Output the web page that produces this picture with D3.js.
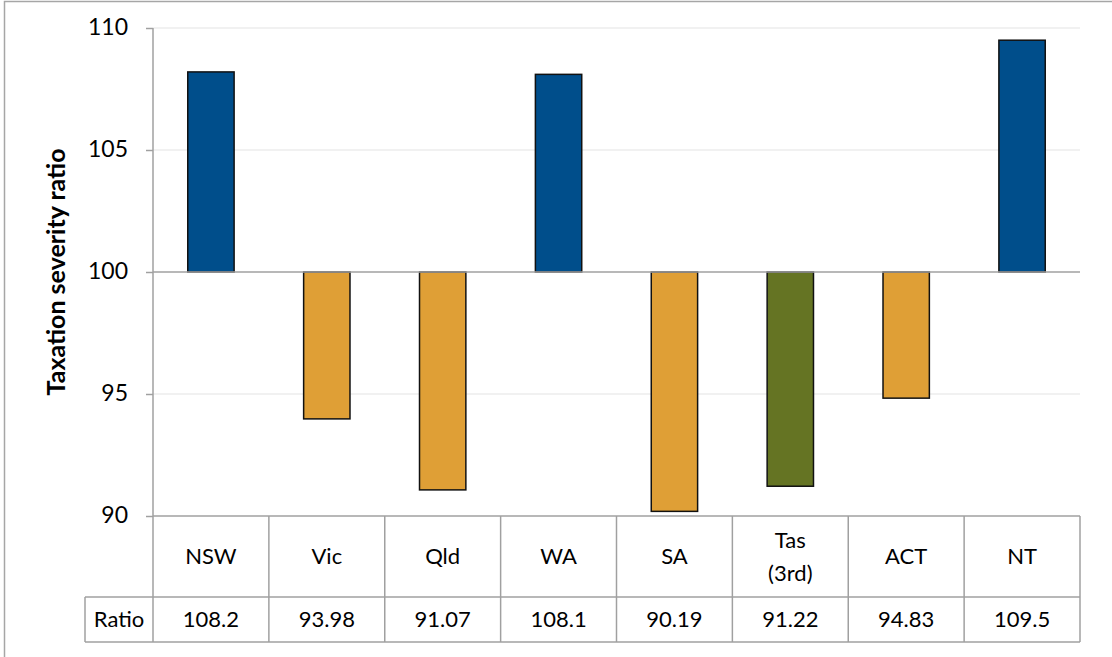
<!DOCTYPE html>
<html>
<head>
<meta charset="utf-8">
<script src="https://cdn.jsdelivr.net/npm/d3@7"></script>
<style>
  html, body { margin: 0; padding: 0; background: #fff; }
  svg { display: block; font-family: Lato, "Open Sans", sans-serif; }
</style>
</head>
<body>
<svg id="chart" width="1112" height="657"></svg>
<script>
// State codes and their taxation severity ratios
const categories = ["NSW", "Vic", "Qld", "WA", "SA", "Tas\n(3rd)", "ACT", "NT"];
const ratios = [108.2, 93.98, 91.07, 108.1, 90.19, 91.22, 94.83, 109.5];
const ratioLabels = ["108.2", "93.98", "91.07", "108.1", "90.19", "91.22", "94.83", "109.5"];
const barGroup = ["above", "below", "below", "above", "below", "third", "below", "above"];
const yTicks = [90, 95, 100, 105, 110];
const baseline = 100;

const colours = { above: "#004e8b", below: "#df9f36", third: "#657423" };

(function draw() {
  const svg = d3.select("#chart");
  const W = 1112, H = 657;
  const fontSize = "22px";

  // outer frame
  svg.append("rect")
    .attr("x", 4.5).attr("y", 1.5).attr("width", W + 10).attr("height", H + 10)
    .attr("fill", "none").attr("stroke", "#a6a6a6").attr("stroke-width", 1.5);

  const plotLeft = 153, plotRight = 1080, plotTop = 28, plotBottom = 516;
  const tableRow1 = 597, tableRow2 = 642, labelColLeft = 85;

  const x = d3.scaleBand().domain(categories).range([plotLeft, plotRight]).paddingInner(0).paddingOuter(0);
  const y = d3.scaleLinear().domain([90, 110]).range([plotBottom, plotTop]);

  // horizontal gridlines
  svg.append("g")
    .selectAll("line")
    .data(yTicks.filter(t => t !== 90 && t !== baseline))
    .join("line")
    .attr("x1", plotLeft).attr("x2", plotRight)
    .attr("y1", d => y(d)).attr("y2", d => y(d))
    .attr("stroke", "#ececec").attr("stroke-width", 1.5);

  // y axis
  const yAxis = d3.axisLeft(y).tickValues(yTicks).tickSize(7).tickPadding(18).tickFormat(d3.format("d"));
  const gy = svg.append("g").attr("transform", `translate(${plotLeft},0)`).call(yAxis);
  gy.select(".domain").remove();
  gy.selectAll(".tick line").attr("stroke", "#a0a0a0").attr("stroke-width", 1.5);
  gy.selectAll(".tick text")
    .attr("fill", "#000").style("font-size", "23px").style("font-family", "Lato, sans-serif")
    .attr("dy", "0.3em");

  svg.append("line")
    .attr("x1", plotLeft).attr("x2", plotLeft).attr("y1", plotTop).attr("y2", tableRow2)
    .attr("stroke", "#a0a0a0").attr("stroke-width", 1.5);

  // y axis title
  svg.append("text")
    .attr("transform", `translate(65,${(plotTop + plotBottom) / 2}) rotate(-90)`)
    .attr("text-anchor", "middle")
    .style("font-size", "25px").style("font-weight", "bold")
    .text("Taxation severity ratio");

  // bars measured from the 100 baseline
  const barW = x.bandwidth() * 0.4;
  svg.append("g")
    .selectAll("rect")
    .data(categories.map((c, i) => ({ c, v: ratios[i], g: barGroup[i] })))
    .join("rect")
    .attr("x", d => x(d.c) + (x.bandwidth() - barW) / 2)
    .attr("width", barW)
    .attr("y", d => y(Math.max(d.v, baseline)))
    .attr("height", d => Math.abs(y(d.v) - y(baseline)))
    .attr("fill", d => colours[d.g])
    .attr("stroke", "#111").attr("stroke-width", 1.5);

  // baseline at 100
  svg.append("line")
    .attr("x1", plotLeft).attr("x2", plotRight).attr("y1", y(baseline)).attr("y2", y(baseline))
    .attr("stroke", "#a0a0a0").attr("stroke-width", 1.5);

  // data table below the plot
  const tg = svg.append("g").attr("stroke", "#a0a0a0").attr("stroke-width", 1.5).attr("fill", "none");
  tg.append("line").attr("x1", plotLeft).attr("x2", plotRight).attr("y1", plotBottom).attr("y2", plotBottom);
  tg.append("line").attr("x1", labelColLeft).attr("x2", plotRight).attr("y1", tableRow1).attr("y2", tableRow1);
  tg.append("line").attr("x1", labelColLeft).attr("x2", plotRight).attr("y1", tableRow2).attr("y2", tableRow2);
  tg.append("line").attr("x1", labelColLeft).attr("x2", labelColLeft).attr("y1", tableRow1).attr("y2", tableRow2);
  tg.selectAll("line.col")
    .data(categories)
    .join("line")
    .attr("class", "col")
    .attr("x1", d => x(d) + x.bandwidth()).attr("x2", d => x(d) + x.bandwidth())
    .attr("y1", plotBottom).attr("y2", tableRow2);

  // category headers
  const head = svg.append("g").style("font-size", fontSize).attr("text-anchor", "middle");
  categories.forEach(c => {
    const lines = c.split("\n");
    const cy = (plotBottom + tableRow1) / 2;
    const lh = 33;
    lines.forEach((ln, j) => {
      head.append("text")
        .attr("x", x(c) + x.bandwidth() / 2)
        .attr("y", cy + (j - (lines.length - 1) / 2) * lh)
        .attr("dy", "0.35em")
        .text(ln);
    });
  });

  // ratio row
  const row = svg.append("g").style("font-size", fontSize);
  row.append("text")
    .attr("x", (labelColLeft + plotLeft) / 2).attr("y", (tableRow1 + tableRow2) / 2)
    .attr("dy", "0.35em").attr("text-anchor", "middle").text("Ratio");
  row.selectAll("text.val")
    .data(categories.map((c, i) => ({ c, t: ratioLabels[i] })))
    .join("text")
    .attr("class", "val")
    .attr("x", d => x(d.c) + x.bandwidth() / 2)
    .attr("y", (tableRow1 + tableRow2) / 2)
    .attr("dy", "0.35em").attr("text-anchor", "middle")
    .text(d => d.t);
})();
</script>
</body>
</html>
